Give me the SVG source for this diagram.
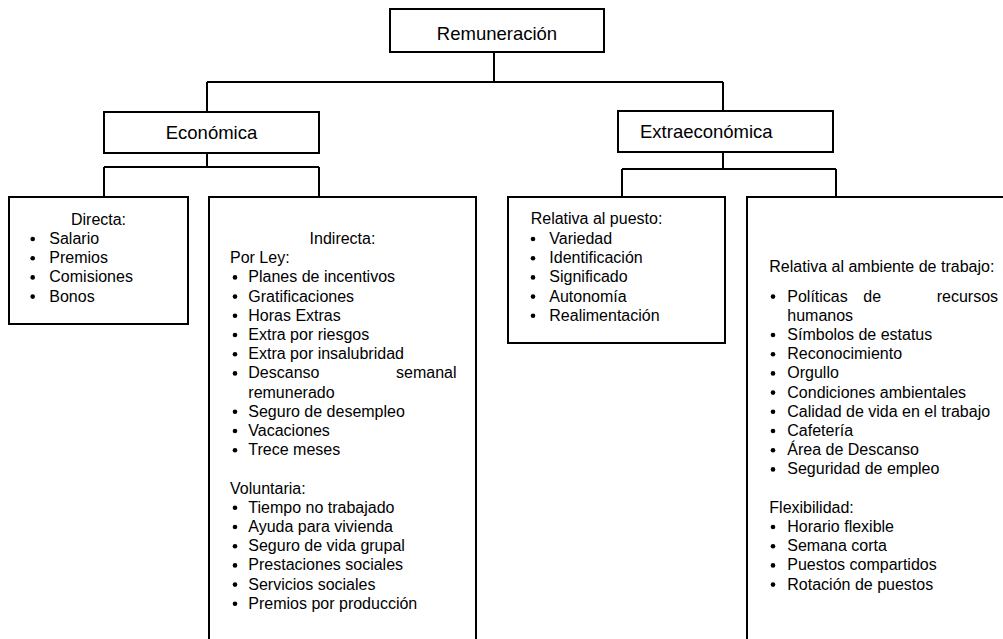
<svg xmlns="http://www.w3.org/2000/svg" width="1003" height="639" viewBox="0 0 1003 639">
<style>
.box{fill:#fff;stroke:#000;stroke-width:2}
.con{fill:none;stroke:#000;stroke-width:2}
.h{font-family:"Liberation Sans",Arial,sans-serif;font-size:18.5px;fill:#000}
.t{font-family:"Liberation Sans",Arial,sans-serif;font-size:16px;fill:#000}
.b{fill:#000}
</style>
<rect width="1003" height="639" fill="#fff"/>
<g id="connectors">
<path class="con" d="M494,52V82M207,82H723M207,82V112M723,82V111"/>
<path class="con" d="M207,153V167M104,167H319M104,167V197M319,167V197"/>
<path class="con" d="M723,152V169M622,169H836M622,169V197M836,169V197"/>
</g>
<g id="remuneracion">
<rect class="box" x="390" y="9" width="214" height="43"/>
<text class="h" x="497" y="39.5" text-anchor="middle">Remuneración</text>
</g>
<g id="economica">
<rect class="box" x="104" y="112" width="215" height="41"/>
<text class="h" x="211.5" y="139.3" text-anchor="middle">Económica</text>
</g>
<g id="extraeconomica">
<rect class="box" x="618" y="111" width="215" height="41"/>
<text class="h" x="640" y="138.3">Extraeconómica</text>
</g>
<g id="directa">
<rect class="box" x="9" y="197" width="179" height="127"/>
<text class="t" x="98.5" y="224.5" text-anchor="middle">Directa:</text>
<g class="b"><circle cx="32.7" cy="239" r="2.3"/><circle cx="32.7" cy="258.2" r="2.3"/><circle cx="32.7" cy="277.4" r="2.3"/><circle cx="32.7" cy="296.6" r="2.3"/></g>
<text class="t" x="49.3" y="244">Salario</text>
<text class="t" x="49.3" y="263.2">Premios</text>
<text class="t" x="49.3" y="282.4">Comisiones</text>
<text class="t" x="49.3" y="301.6">Bonos</text>
</g>
<g id="indirecta">
<rect class="box" x="209" y="197" width="267" height="460"/>
<text class="t" x="342.5" y="244" text-anchor="middle">Indirecta:</text>
<text class="t" x="230" y="263.2">Por Ley:</text>
<g class="b">
<circle cx="235" cy="277.4" r="2.3"/><circle cx="235" cy="296.6" r="2.3"/><circle cx="235" cy="315.8" r="2.3"/><circle cx="235" cy="335" r="2.3"/><circle cx="235" cy="354.2" r="2.3"/><circle cx="235" cy="373.4" r="2.3"/><circle cx="235" cy="411.8" r="2.3"/><circle cx="235" cy="431" r="2.3"/><circle cx="235" cy="450.2" r="2.3"/>
<circle cx="235" cy="507.8" r="2.3"/><circle cx="235" cy="527" r="2.3"/><circle cx="235" cy="546.2" r="2.3"/><circle cx="235" cy="565.4" r="2.3"/><circle cx="235" cy="584.6" r="2.3"/><circle cx="235" cy="603.8" r="2.3"/>
</g>
<text class="t" x="248.3" y="282.4">Planes de incentivos</text>
<text class="t" x="248.3" y="301.6">Gratificaciones</text>
<text class="t" x="248.3" y="320.8">Horas Extras</text>
<text class="t" x="248.3" y="340">Extra por riesgos</text>
<text class="t" x="248.3" y="359.2">Extra por insalubridad</text>
<text class="t" x="248.3" y="378.4">Descanso<tspan x="396">semanal</tspan></text>
<text class="t" x="248.3" y="397.6">remunerado</text>
<text class="t" x="248.3" y="416.8">Seguro de desempleo</text>
<text class="t" x="248.3" y="436">Vacaciones</text>
<text class="t" x="248.3" y="455.2">Trece meses</text>
<text class="t" x="230" y="493.6">Voluntaria:</text>
<text class="t" x="248.3" y="512.8">Tiempo no trabajado</text>
<text class="t" x="248.3" y="532">Ayuda para vivienda</text>
<text class="t" x="248.3" y="551.2">Seguro de vida grupal</text>
<text class="t" x="248.3" y="570.4">Prestaciones sociales</text>
<text class="t" x="248.3" y="589.6">Servicios sociales</text>
<text class="t" x="248.3" y="608.8">Premios por producción</text>
</g>
<g id="relativa-puesto">
<rect class="box" x="508" y="197" width="217" height="146"/>
<text class="t" x="530.7" y="224">Relativa al puesto:</text>
<g class="b"><circle cx="533" cy="239" r="2.3"/><circle cx="533" cy="258.2" r="2.3"/><circle cx="533" cy="277.4" r="2.3"/><circle cx="533" cy="296.6" r="2.3"/><circle cx="533" cy="315.8" r="2.3"/></g>
<text class="t" x="549.3" y="244">Variedad</text>
<text class="t" x="549.3" y="263.2">Identificación</text>
<text class="t" x="549.3" y="282.4">Significado</text>
<text class="t" x="549.3" y="301.6">Autonomía</text>
<text class="t" x="549.3" y="320.8">Realimentación</text>
</g>
<g id="relativa-ambiente">
<rect class="box" x="747" y="197" width="270" height="460"/>
<text class="t" x="769.3" y="272.4">Relativa al ambiente de trabajo:</text>
<g class="b">
<circle cx="773" cy="296.6" r="2.3"/><circle cx="773" cy="335" r="2.3"/><circle cx="773" cy="354.2" r="2.3"/><circle cx="773" cy="373.4" r="2.3"/><circle cx="773" cy="392.6" r="2.3"/><circle cx="773" cy="411.8" r="2.3"/><circle cx="773" cy="431" r="2.3"/><circle cx="773" cy="450.2" r="2.3"/><circle cx="773" cy="469.4" r="2.3"/>
<circle cx="773" cy="527" r="2.3"/><circle cx="773" cy="546.2" r="2.3"/><circle cx="773" cy="565.4" r="2.3"/><circle cx="773" cy="584.6" r="2.3"/>
</g>
<text class="t" x="787.3" y="301.6">Políticas<tspan x="863.3">de</tspan><tspan x="936.7">recursos</tspan></text>
<text class="t" x="787.3" y="320.8">humanos</text>
<text class="t" x="787.3" y="340">Símbolos de estatus</text>
<text class="t" x="787.3" y="359.2">Reconocimiento</text>
<text class="t" x="787.3" y="378.4">Orgullo</text>
<text class="t" x="787.3" y="397.6">Condiciones ambientales</text>
<text class="t" x="787.3" y="416.8">Calidad de vida en el trabajo</text>
<text class="t" x="787.3" y="436">Cafetería</text>
<text class="t" x="787.3" y="455.2">Área de Descanso</text>
<text class="t" x="787.3" y="474.4">Seguridad de empleo</text>
<text class="t" x="769.3" y="512.8">Flexibilidad:</text>
<text class="t" x="787.3" y="532">Horario flexible</text>
<text class="t" x="787.3" y="551.2">Semana corta</text>
<text class="t" x="787.3" y="570.4">Puestos compartidos</text>
<text class="t" x="787.3" y="589.6">Rotación de puestos</text>
</g>
</svg>
